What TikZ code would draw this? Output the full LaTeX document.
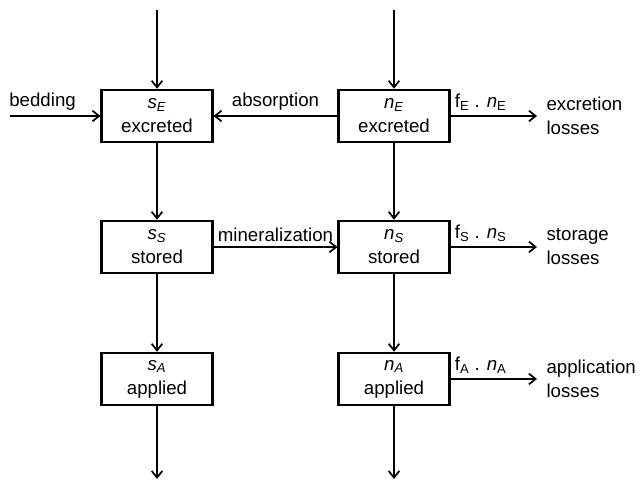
\documentclass[tikz,border=0pt]{standalone}
\usepackage{fontspec}
\setmainfont{Liberation Sans}
\usetikzlibrary{arrows.meta, positioning}

\begin{document}
\begin{tikzpicture}[
    x=0.75pt, y=-0.75pt,
    every node/.style={font=\fontsize{14}{18}\selectfont},
    pool/.style={draw, line width=1.8pt, minimum width=83pt, minimum height=39pt, align=center, inner sep=1pt},
    flow/.style={-{Straight Barb[length=5pt, width=8pt]}, line width=1.3pt},
    loss/.style={align=left, inner sep=1pt}
]
    \useasboundingbox (0,0) rectangle (640,484);

    % pools
    \node[pool] (sE) at (157,116) {\textit{s}\textsubscript{\textit{E}}\\excreted};
    \node[pool] (nE) at (394,116) {\textit{n}\textsubscript{\textit{E}}\\excreted};
    \node[pool] (sS) at (157,247) {\textit{s}\textsubscript{\textit{S}}\\stored};
    \node[pool] (nS) at (394,247) {\textit{n}\textsubscript{\textit{S}}\\stored};
    \node[pool] (sA) at (157,379) {\textit{s}\textsubscript{\textit{A}}\\applied};
    \node[pool] (nA) at (394,379) {\textit{n}\textsubscript{\textit{A}}\\applied};

    % free ends
    \coordinate (sIn) at (157,10);
    \coordinate (nIn) at (394,10);
    \coordinate (sOut) at (157,479);
    \coordinate (nOut) at (394,479);
    \coordinate (bed) at (10,116);
    \coordinate (eLoss) at (537,116);
    \coordinate (sLoss) at (537,247);
    \coordinate (aLoss) at (537,379);

    \draw[flow] (sIn) -- (sE);
    \draw[flow] (nIn) -- (nE);
    \draw[flow] (sE) -- (sS);
    \draw[flow] (nE) -- (nS);
    \draw[flow] (sS) -- (sA);
    \draw[flow] (nS) -- (nA);
    \draw[flow] (sA) -- (sOut);
    \draw[flow] (nA) -- (nOut);

    \draw[flow] (bed) -- node[above, pos=0.36] {bedding} (sE);
    \draw[flow] (nE) -- node[above] {absorption} (sE);
    \draw[flow] (sS) -- node[above] {mineralization} (nS);

    \draw[flow] (nE) -- node[above, pos=0.35] {f\textsubscript{E} . \textit{n}\textsubscript{E}} (eLoss);
    \draw[flow] (nS) -- node[above, pos=0.35] {f\textsubscript{S} . \textit{n}\textsubscript{S}} (sLoss);
    \draw[flow] (nA) -- node[above, pos=0.35] {f\textsubscript{A} . \textit{n}\textsubscript{A}} (aLoss);

    \node[loss, right=6pt of eLoss] (eText) {excretion\\losses};
    \node[loss, right=6pt of sLoss] (sText) {storage\\losses};
    \node[loss, right=6pt of aLoss] (aText) {application\\losses};
\end{tikzpicture}
\end{document}
